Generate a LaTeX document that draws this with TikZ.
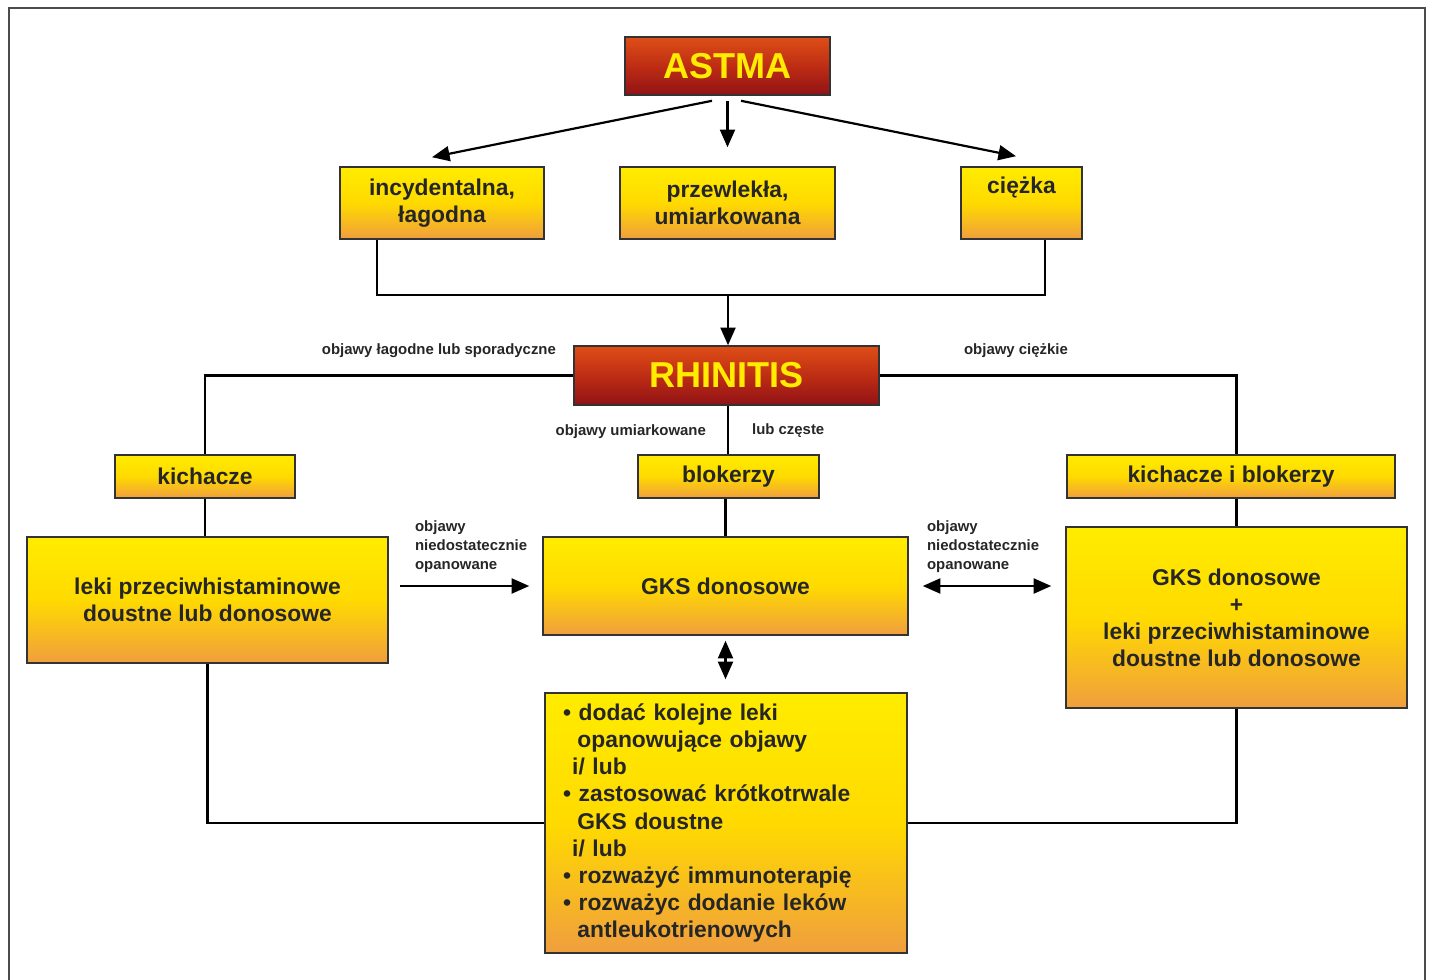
\documentclass[tikz,border=0pt]{standalone}
\usepackage{fontspec}
\setmainfont{Liberation Sans}
\usetikzlibrary{arrows.meta}
\definecolor{ytop}{RGB}{255,236,0}
\definecolor{ymid}{RGB}{255,218,0}
\definecolor{ybot}{RGB}{240,158,62}
\definecolor{rtop}{RGB}{222,78,22}
\definecolor{rmid}{RGB}{190,45,20}
\definecolor{rbot}{RGB}{145,18,22}
\definecolor{rtext}{RGB}{255,236,0}

\begin{document}
\begin{tikzpicture}[x=0.02cm,y=-0.02cm,>={Triangle[length=10pt,width=8.5pt]},line width=1.25pt]
	\tikzstyle{ybox} = [draw=black!80,line width=0.9pt,top color=ytop,bottom color=ybot,middle color=ymid,font=\fontsize{13}{15.4}\selectfont\bfseries,text=black!85,align=center,inner sep=2pt];
	\tikzstyle{rbox} = [draw=black!80,line width=0.9pt,top color=rtop,bottom color=rbot,middle color=rmid,font=\fontsize{20.5}{24}\selectfont\bfseries,text=rtext];
	\tikzstyle{lbl} = [font=\fontsize{8.5}{10.8}\selectfont\bfseries,inner sep=0pt,text=black!85];
	\useasboundingbox (0,0) rectangle (1433,980);
	\draw[gray!60!black,line width=1pt] (9,980) -- (9,8) -- (1425,8) -- (1425,980);

	\node[rbox,minimum width=4.1cm,minimum height=1.16cm] (astma) at (727.5,66) {ASTMA};
	\node[ybox,minimum width=4.08cm,minimum height=1.44cm] (inc) at (442,203) {incydentalna,\\łagodna};
	\node[ybox,minimum width=4.3cm,minimum height=1.44cm] (prz) at (727.5,203) {przewlekła,\\umiarkowana};
	\node[ybox,minimum width=2.42cm,minimum height=1.44cm] (ciez) at (1021.5,203) {ciężka\\\strut};
	\coordinate (j) at (728,295);
	\node[rbox,minimum width=6.1cm,minimum height=1.18cm] (rhin) at (726.5,375.5) {RHINITIS};
	\node[ybox,minimum width=3.6cm,minimum height=0.86cm] (kich) at (205,476.5) {kichacze};
	\node[ybox,minimum width=3.62cm,minimum height=0.86cm] (blok) at (728.5,476.5) {blokerzy};
	\node[ybox,minimum width=6.56cm,minimum height=0.86cm] (kib) at (1231,476.5) {kichacze i blokerzy};
	\node[ybox,minimum width=7.22cm,minimum height=2.52cm] (leki) at (207.5,600) {leki przeciwhistaminowe\\doustne lub donosowe};
	\node[ybox,minimum width=7.3cm,minimum height=1.96cm] (gks) at (725.5,586) {GKS donosowe};
	\node[ybox,minimum width=6.82cm,minimum height=3.62cm] (gksleki) at (1236.5,617.5) {GKS donosowe\\+\\leki przeciwhistaminowe\\doustne lub donosowe};
	\node[ybox,minimum width=7.24cm,minimum height=5.2cm,text width=6.52cm,align=left] (dod) at (726,823) {%
		\textbullet\ dodać kolejne leki\\
		\hspace*{0.63em}opanowujące objawy\\
		\hspace*{0.4em}i/ lub\\
		\textbullet\ zastosować krótkotrwale\\
		\hspace*{0.63em}GKS doustne\\
		\hspace*{0.4em}i/ lub\\
		\textbullet\ rozważyć immunoterapię\\
		\textbullet\ rozważyc dodanie leków\\
		\hspace*{0.63em}antleukotrienowych};

	% labels
	\node[lbl,anchor=east] (lagodne) at (557,351) {objawy łagodne lub sporadyczne};
	\node[lbl,anchor=west] (ciezkie) at (963,351) {objawy ciężkie};
	\node[lbl,anchor=east] (umiark) at (707,432) {objawy umiarkowane};
	\node[lbl,anchor=west] (czeste) at (751,431) {lub częste};
	\node[lbl,anchor=north west,align=left] (niedost1) at (414,520) {objawy\\niedostatecznie\\opanowane};
	\node[lbl,anchor=north west,align=left] (niedost2) at (926,520) {objawy\\niedostatecznie\\opanowane};

	\draw[->] ([xshift=-0.31cm,yshift=-0.1cm]astma.south) -- ([xshift=-0.2cm,yshift=0.18cm]inc.north);
	\draw[->] ([yshift=-0.1cm]astma.south) -- ([yshift=0.38cm]prz.north);
	\draw[->] ([xshift=0.27cm,yshift=-0.1cm]astma.south) -- ([xshift=-0.11cm,yshift=0.2cm]ciez.north);
	\draw ([xshift=-1.3cm]inc.south) |- (j) -| ([xshift=0.47cm]ciez.south);
	\draw[->] (j) -- (j |- rhin.north);
	\draw (rhin.west) -| (kich.north);
	\draw (rhin.east) -| (gksleki.north |- kib.north);
	\draw (rhin.south -| j) -- (j |- blok.north);
	\draw (gks.north |- blok.south) -- (gks.north);
	\draw (kich.south) -- (kich.south |- leki.north);
	\draw (gksleki.north |- kib.south) -- (gksleki.north);
	\draw[->,shorten <=0.22cm,shorten >=0.26cm] (leki.east |- gks.west) -- (gks.west);
	\draw[<->,shorten <=0.28cm,shorten >=0.28cm] (gks.east) -- (gks.east -| gksleki.west);
	\draw[<->,shorten <=0.1cm,shorten >=0.26cm] (gks.south) -- (gks.south |- dod.north);
	\draw (leki.south) |- (dod.west);
	\draw (dod.east) -| (gksleki.south);
\end{tikzpicture}
\end{document}
